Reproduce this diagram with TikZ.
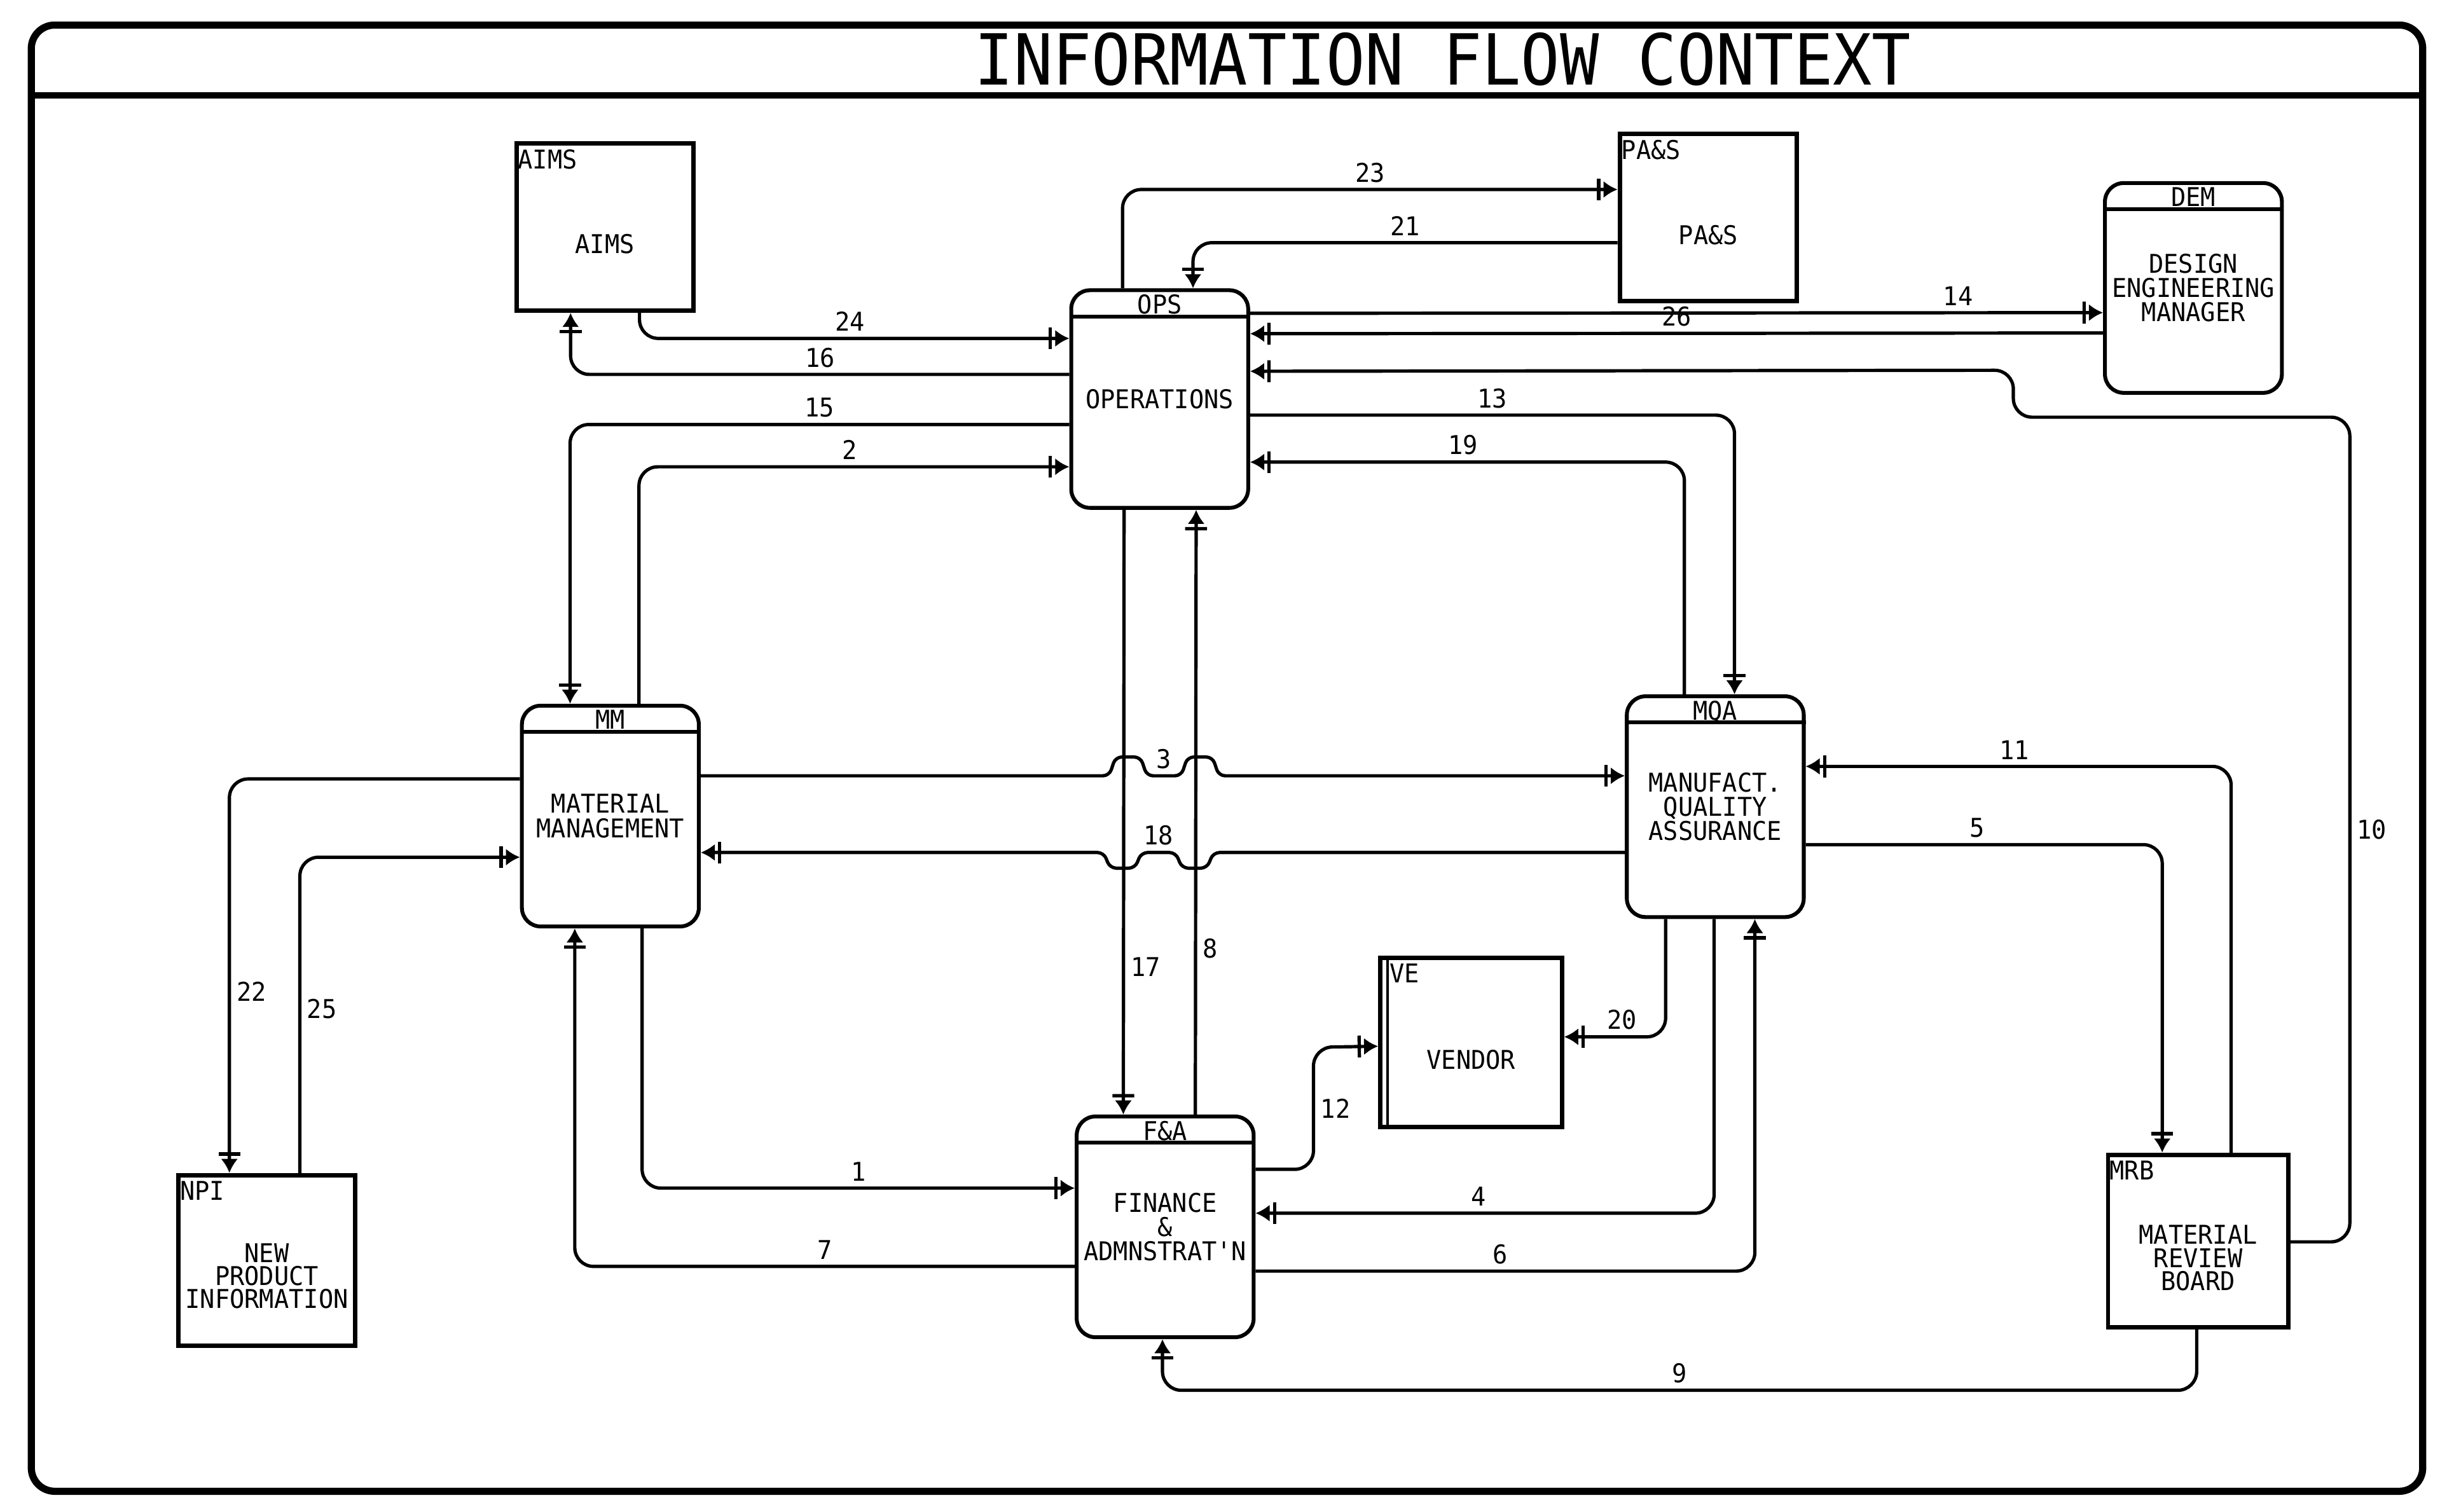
\documentclass[tikz,border=0pt]{standalone}
\usepackage{fontspec}
\usepackage{tikz}
\usetikzlibrary{arrows.meta}

\newfontfamily\dotfont[FakeStretch=0.95]{DejaVu Sans Mono}
\newfontfamily\titlefont[FakeStretch=0.92]{DejaVu Sans Mono}

\begin{document}
\begin{tikzpicture}[
    x=0.01cm, y=-0.01cm,
    proc/.style={
        draw,
        line width=0.7pt,
        rounded corners=1.2mm,
        minimum width=1.13cm,
        minimum height=1.41cm,
        inner xsep=0.3pt,
        align=center,
        font=\dotfont\fontsize{4.7}{4.4}\selectfont
    },
    ent/.style={
        draw,
        line width=0.8pt,
        minimum width=1.13cm,
        minimum height=1.07cm,
        inner sep=0pt
    },
    etxt/.style={
        align=center,
        inner sep=0pt,
        font=\dotfont\fontsize{4.7}{4.2}\selectfont
    },
    hdr/.style={
        anchor=north,
        inner sep=0pt,
        yshift=-0.35mm,
        font=\dotfont\fontsize{4.7}{4.4}\selectfont
    },
    idtag/.style={
        anchor=north west,
        inner sep=0.5pt,
        yshift=-0.3mm,
        font=\dotfont\fontsize{4.7}{4.4}\selectfont
    },
    flow/.style={-{Bar[width=1.4mm,line width=0.6pt,sep=0.2mm]Latex[length=0.9mm,width=1.1mm]}, line width=0.6pt, rounded corners=1.2mm},
    flowlbl/.style={inner sep=1pt, font=\dotfont\fontsize{4.7}{4.4}\selectfont}
]

\useasboundingbox (0,0) rectangle (1568,966);

% frame and title
\draw[line width=1.3pt, rounded corners=1.5mm] (20,16) rectangle (1548,953);
\draw[line width=1.2pt] (20,61) -- (1548,61);
\node[font=\titlefont\fontsize{12.8}{14}\selectfont] (title) at (922,38) {INFORMATION FLOW CONTEXT};

% processes
\node[proc, minimum height=1.39cm, label={[hdr]north:OPS}] (ops) at (741,255) {OPERATIONS};
\node[proc, label={[hdr]north:MM}] (mm) at (390,521.5) {MATERIAL\\MANAGEMENT};
\node[proc, label={[hdr]north:MQA}] (mqa) at (1096,515.5) {MANUFACT.\\QUALITY\\ASSURANCE};
\node[proc, label={[hdr]north:F\&A}] (fa) at (744.5,784) {FINANCE\\\&\\ADMNSTRAT'N};
\node[proc, minimum height=1.34cm, label={[hdr]north:DEM}] (dem) at (1401.5,184) {DESIGN\\ENGINEERING\\MANAGER};

\foreach \n in {ops,mm,mqa,fa,dem}
    \draw[line width=0.7pt] ([yshift=-1.8mm]\n.north west) -- ([yshift=-1.8mm]\n.north east);

% external entities
\node[ent, label={[idtag]north west:AIMS}] (aims) at (386.5,145) {};
\node[ent, label={[idtag]north west:PA\&S}] (pas) at (1091.5,139) {};
\node[ent, minimum width=1.16cm, minimum height=1.08cm, label={[idtag, xshift=0.5mm]north west:VE}] (ve) at (940,666) {};
\node[ent, minimum height=1.09cm, label={[idtag]north west:NPI}] (npi) at (170.5,805.5) {};
\node[ent, minimum width=1.15cm, minimum height=1.1cm, label={[idtag]north west:MRB}] (mrb) at (1404.5,793) {};

\draw[line width=0.5pt] ([xshift=0.6mm]ve.north west) -- ([xshift=0.6mm]ve.south west);

\node[etxt] (aims-t) at ([yshift=-1.1mm]aims.center) {AIMS};
\node[etxt] (pas-t) at ([yshift=-1.1mm]pas.center) {PA\&S};
\node[etxt] (ve-t) at ([yshift=-1.1mm]ve.center) {VENDOR};
\node[etxt] (npi-t) at ([yshift=-1mm]npi.center) {NEW\\PRODUCT\\INFORMATION};
\node[etxt] (mrb-t) at ([yshift=-1.1mm]mrb.center) {MATERIAL\\REVIEW\\BOARD};

% flows round OPS
\draw[flow] ([xshift=3.4mm]ops.north west) |- node[flowlbl, above, pos=0.75] {23} ([yshift=-3.7mm]pas.north west);
\draw[flow] ([yshift=-7.1mm]pas.north west) -| node[flowlbl, above, pos=0.25] {21} ([xshift=7.9mm]ops.north west);
\draw[flow] ([xshift=8mm]aims.south west) |- node[flowlbl, above, pos=0.745] {24} ([yshift=-3.2mm]ops.north west);
\draw[flow] ([yshift=-5.5mm]ops.north west) -| node[flowlbl, above, pos=0.25] {16} ([xshift=3.6mm]aims.south west);
\draw[flow] ([yshift=-1.6mm]ops.north east) -- node[flowlbl, above, pos=0.83] {14} ([yshift=-8.4mm]dem.north west);
\draw[flow] ([yshift=-9.7mm]dem.north west) -- node[flowlbl, above, pos=0.5] {26} ([yshift=-2.9mm]ops.north east);
\draw[flow] ([yshift=-5.7mm]mrb.north east) -- ++(38,0) -- node[flowlbl, right] {10} ++(0,-527) -- ++(-215,0) -- ++(0,-30) -- ([yshift=-5.3mm]ops.north east);
\draw[flow] ([yshift=-8.1mm]ops.north east) -| node[flowlbl, above, pos=0.25] {13} ([xshift=7mm]mqa.north west);
\draw[flow] ([xshift=3.8mm]mqa.north west) |- node[flowlbl, above, pos=0.755] {19} ([yshift=-11.1mm]ops.north east);
\draw[flow] ([yshift=-8.7mm]ops.north west) -| node[flowlbl, above, pos=0.25] {15} ([xshift=3.2mm]mm.north west);
\draw[flow] ([xshift=7.6mm]mm.north west) |- node[flowlbl, above, pos=0.745] {2} ([yshift=-11.4mm]ops.north west);
\draw[flow] ([xshift=3.5mm]ops.south west) -- node[flowlbl, right, pos=0.756] {17} ([xshift=3.1mm]fa.north west);
\draw[flow] ([xshift=7.7mm]fa.north west) -- node[flowlbl, right, pos=0.275] {8} ([xshift=8.1mm]ops.south west);

% MM <-> MQA, hopping over 17 and 8
\draw[flow, rounded corners=0.4mm] ([yshift=-4.6mm]mm.north east) -- ++(261,0) -- ++(4,-12) -- ++(16,0) -- ++(4,12)
    -- node[flowlbl, above] {3} ++(22,0) -- ++(4,-12) -- ++(16,0) -- ++(4,12) -- ([yshift=-5.2mm]mqa.north west);
\draw[flow, rounded corners=0.4mm] ([yshift=-10.1mm]mqa.north west) -- ++(-263,0) -- ++(-4,10) -- ++(-16,0) -- ++(-4,-10)
    -- node[flowlbl, above] {18} ++(-22,0) -- ++(-4,10) -- ++(-16,0) -- ++(-4,-10) -- ([yshift=-9.5mm]mm.north east);

% lower part
\draw[flow] ([xshift=7.8mm]mm.south west) |- node[flowlbl, above, pos=0.75] {1} ([yshift=-4.7mm]fa.north west);
\draw[flow] ([yshift=-9.7mm]fa.north west) -| node[flowlbl, above, pos=0.25] {7} ([xshift=3.5mm]mm.south west);
\draw[flow] ([yshift=-4.8mm]mm.north west) -| node[flowlbl, right, pos=0.77] {22} ([xshift=3.4mm]npi.north west);
\draw[flow] ([xshift=7.9mm]npi.north west) |- node[flowlbl, right, pos=0.26] {25} ([yshift=-9.8mm]mm.north west);
\draw[flow] ([yshift=-3.5mm]fa.north east) -- ++(37,0) -- node[flowlbl, right] {12} ++(0,-78) -- ([yshift=-5.8mm]ve.north west);
\draw[flow] ([xshift=2.6mm]mqa.south west) |- node[flowlbl, above, pos=0.715] {20} ([yshift=-5.2mm]ve.north east);
\draw[flow] ([xshift=5.7mm]mqa.south west) |- node[flowlbl, above, pos=0.757] {4} ([yshift=-6.3mm]fa.north east);
\draw[flow] ([yshift=-10mm]fa.north east) -| node[flowlbl, above, pos=0.245] {6} ([xshift=8.3mm]mqa.south west);
\draw[flow] ([xshift=8mm]mrb.north west) |- node[flowlbl, above, pos=0.755] {11} ([yshift=-4.6mm]mqa.north east);
\draw[flow] ([yshift=-9.6mm]mqa.north east) -| node[flowlbl, above, pos=0.24] {5} ([xshift=3.6mm]mrb.north west);
\draw[flow] ([xshift=5.8mm]mrb.south west) -- ++(0,39) -| node[flowlbl, above, pos=0.25] {9} ([xshift=5.6mm]fa.south west);

\end{tikzpicture}
\end{document}
